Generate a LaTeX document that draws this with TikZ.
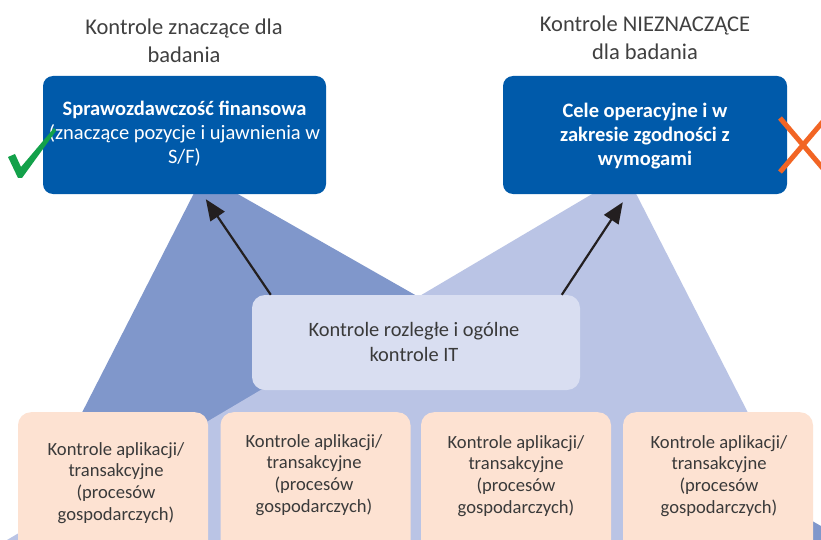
\documentclass[tikz,border=0pt]{standalone}
\usepackage{fontspec}
\setmainfont{Carlito}
\usetikzlibrary{arrows.meta}

\definecolor{boxblue}{HTML}{005AAA}
\definecolor{tridark}{HTML}{8097CB}
\definecolor{trilight}{HTML}{BAC4E5}
\definecolor{midfill}{HTML}{D9DEF1}
\definecolor{peach}{HTML}{FDE2D2}
\definecolor{titlegray}{HTML}{404040}
\definecolor{bodygray}{HTML}{3A3A3A}
\definecolor{okgreen}{HTML}{13A14A}
\definecolor{noorange}{HTML}{F26524}
\definecolor{arrowblack}{HTML}{231F20}

\begin{document}
\begin{tikzpicture}[x=1pt,y=-1pt,
  bluebox/.style={fill=boxblue, rounded corners=10pt, inner sep=0pt},
  midbox/.style={fill=midfill, rounded corners=13pt, inner sep=0pt,
    minimum width=328pt, minimum height=95pt},
  procbox/.style={fill=peach, rounded corners=13pt, inner sep=0pt,
    minimum width=190pt, minimum height=150pt, anchor=north},
  titletext/.style={text=titlegray, align=center, inner sep=0pt, anchor=north,
    font=\fontsize{22.5}{28}\selectfont},
  boxtext/.style={text=white, align=center, inner sep=0pt, anchor=north,
    font=\fontsize{20.5}{24}\selectfont},
  midtext/.style={text=bodygray, align=center, inner sep=0pt, anchor=north,
    font=\fontsize{20.4}{25}\selectfont},
  proctext/.style={text=bodygray, align=center, inner sep=0pt, anchor=north,
    font=\fontsize{18.6}{21.7}\selectfont},
  upconn/.style={draw=arrowblack, line width=2.2pt,
    -{Triangle[length=21pt,width=17pt]}}
]
\path[use as bounding box, fill=white] (0,0) rectangle (821,540);

% two overlapping triangles in the background, stopping at the lower border
\fill[tridark] (203.5,174.5) -- (17,540) -- (821,540) -- (821,526) -- cycle;
\fill[trilight] (626,174) -- (813,540) -- (7,540) -- cycle;

% bottom row of boxes; their lower part lies past the border
\node[procbox] (p1) at (113,412) {};
\node[procbox] (p2) at (315.5,412) {};
\node[procbox] (p3) at (516,412) {};
\node[procbox] (p4) at (718,412) {};

% headings
\node[titletext] (headL) at (184,19) {Kontrole znaczące dla\\badania};
\node[titletext] (headR) at (645,16) {Kontrole NIEZNACZĄCE\\dla badania};

% top boxes
\node[bluebox, minimum width=283pt, minimum height=118pt] (lbox) at (184.5,135) {};
\node[bluebox, minimum width=284pt, minimum height=118pt] (rbox) at (645,135) {};
\node[boxtext] (lboxtxt) at (184.5,100.5)
  {\textbf{Sprawozdawczość finansowa}\\(znaczące pozycje i ujawnienia w\\S/F)};
\node[boxtext] (rboxtxt) at (645,102.5)
  {\textbf{Cele operacyjne i w}\\\textbf{zakresie zgodności z}\\\textbf{wymogami}};

% middle box
\node[midbox] (ctr) at (416,342.5) {};
\node[midtext] (ctrtxt) at (414,322.5) {Kontrole rozległe i ogólne\\kontrole IT};

% texts of the bottom boxes
\node[proctext] (p1txt) at (116,442) {Kontrole aplikacji/\\transakcyjne\\(procesów\\gospodarczych)};
\node[proctext] (p2txt) at (314,434) {Kontrole aplikacji/\\transakcyjne\\(procesów\\gospodarczych)};
\node[proctext] (p3txt) at (516,435) {Kontrole aplikacji/\\transakcyjne\\(procesów\\gospodarczych)};
\node[proctext] (p4txt) at (719,435) {Kontrole aplikacji/\\transakcyjne\\(procesów\\gospodarczych)};

% arrows from the middle box up to the top boxes
\draw[upconn] ([xshift=19pt]ctr.north west) -- ([xshift=163pt,yshift=-5pt]lbox.south west);
\draw[upconn] ([xshift=310pt]ctr.north west) -- ([xshift=120pt,yshift=-8pt]rbox.south west);

% tick mark and cross mark (the cross runs past the right border)
\fill[okgreen] (8,157) -- (15,154) -- (21,167) -- (54,128) -- (56,131) -- (22,178) -- (18,178) -- cycle;
\begin{scope}
\clip (0,0) rectangle (821,540);
\draw[noorange, line width=5pt] (780,118) -- (826,172);
\draw[noorange, line width=5pt] (826,118) -- (780,172);
\end{scope}
\end{tikzpicture}
\end{document}
